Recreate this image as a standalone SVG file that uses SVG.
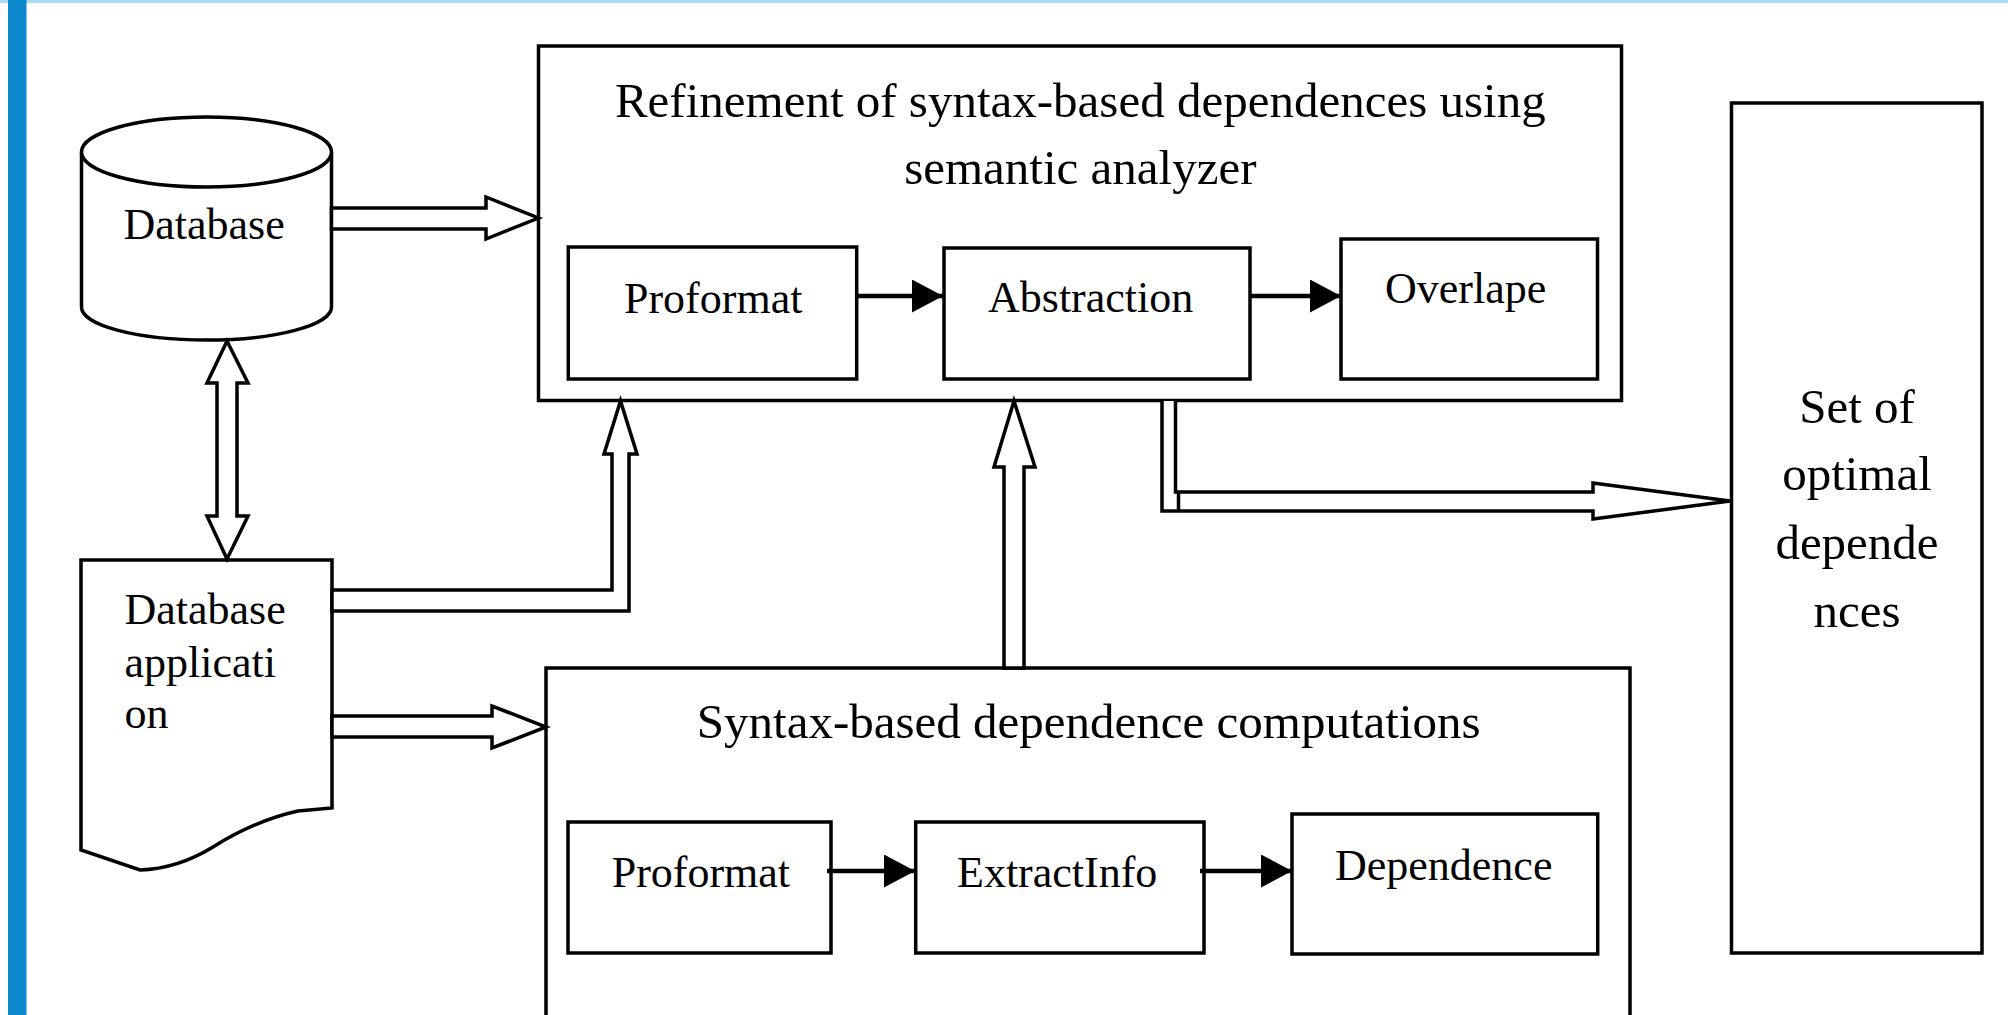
<svg xmlns="http://www.w3.org/2000/svg" width="2008" height="1015" viewBox="0 0 2008 1015">
<style>
.box{fill:#fff;stroke:#000;stroke-width:3.5}
.blk{fill:#fff;stroke:#000;stroke-width:3.5;stroke-linejoin:miter}
.ln{fill:none;stroke:#000;stroke-width:3.5}
.arr{fill:none;stroke:#000;stroke-width:4.5}
.t{font-family:"Liberation Serif","Times New Roman",serif;fill:#000}
.s44{font-size:44px}
.s49{font-size:49px}
</style>
<defs>
<marker id="tri" markerUnits="userSpaceOnUse" markerWidth="32" markerHeight="34" refX="31" refY="16.5" orient="auto" viewBox="0 0 32 34">
<path d="M0,0 L31,16.5 L0,33 Z" fill="#000"/>
</marker>
</defs>
<rect x="0" y="0" width="2008" height="1015" fill="#fff"/>
<rect x="0" y="0" width="2008" height="3" fill="#A9DAF2"/>
<rect x="8" y="0" width="18.5" height="1015" fill="#0E88CC"/>

<g id="database">
<path class="box" d="M81.5,152 V307 A125,33 0 0 0 331.5,307 V152"/>
<ellipse class="box" cx="206.5" cy="152" rx="125" ry="35"/>
<text class="t s44" x="123.5" y="239">Database</text>
</g>

<g id="dbapp">
<path class="box" d="M81,560 H332 V808 L298,811 C262,819 232,835 213,847 C195,858 172,869 140,870 L81,850 Z"/>
<text class="t s44" x="124.5" y="623.5">Database</text>
<text class="t s44" x="124.5" y="676.5">applicati</text>
<text class="t s44" x="124.5" y="727.5">on</text>
</g>

<g id="refinement">
<rect class="box" x="538.5" y="46" width="1083" height="354.5"/>
<text class="t s49" x="1080.3" y="117" text-anchor="middle">Refinement of syntax-based dependences using</text>
<text class="t s49" x="1080.3" y="184" text-anchor="middle">semantic analyzer</text>
</g>
<g id="proformat1">
<rect class="box" x="568.3" y="247" width="288.4" height="132"/>
<text class="t s44" x="624" y="313">Proformat</text>
</g>
<g id="abstraction">
<rect class="box" x="944" y="248" width="306" height="131"/>
<text class="t s44" x="988" y="312">Abstraction</text>
</g>
<g id="overlape">
<rect class="box" x="1341" y="239" width="256.5" height="140"/>
<text class="t s44" x="1385" y="302.7">Overlape</text>
</g>

<g id="syntax">
<rect class="box" x="546" y="668" width="1084" height="400"/>
<text class="t s49" x="1088.7" y="738" text-anchor="middle">Syntax-based dependence computations</text>
</g>
<g id="proformat2">
<rect class="box" x="568" y="822" width="263" height="131"/>
<text class="t s44" x="611.7" y="887">Proformat</text>
</g>
<g id="extractinfo">
<rect class="box" x="915.7" y="822" width="288.3" height="131"/>
<text class="t s44" x="957" y="887">ExtractInfo</text>
</g>
<g id="dependence">
<rect class="box" x="1292" y="814" width="305.7" height="140"/>
<text class="t s44" x="1335" y="880">Dependence</text>
</g>

<g id="optimal">
<rect class="box" x="1731.5" y="103" width="250.5" height="850"/>
<text class="t s49" x="1857" y="423" text-anchor="middle">Set of</text>
<text class="t s49" x="1857" y="490" text-anchor="middle">optimal</text>
<text class="t s49" x="1857" y="559" text-anchor="middle">depende</text>
<text class="t s49" x="1857" y="627" text-anchor="middle">nces</text>
</g>

<g id="connectors">
<polygon class="blk" points="227,341 248,383 237,383 237,516 248,516 227,559 207,516 217,516 217,383 207,383"/>
<polygon class="blk" points="331.5,208 486,208 486,197 538.5,218 486,239 486,229 331.5,229"/>
<polygon class="blk" points="332,590 612,590 612,454 604,454 620.5,401 637,454 629,454 629,611 332,611"/>
<polygon class="blk" points="332,716 492,716 492,706 546,727 492,748 492,737 332,737"/>
<polygon class="blk" points="1004,668 1004,467 994,467 1014,401 1035,467 1024,467 1024,668"/>
<path class="blk" d="M1162,401 V511 H1593 V519 L1730,501 L1593,483 V492 H1175.5 V401"/>
<line class="ln" x1="1178.5" y1="493" x2="1178.5" y2="510"/>
<line class="arr" x1="856" y1="296" x2="943" y2="296" marker-end="url(#tri)"/>
<line class="arr" x1="1250" y1="296" x2="1341" y2="296" marker-end="url(#tri)"/>
<line class="arr" x1="827" y1="871" x2="915" y2="871" marker-end="url(#tri)"/>
<line class="arr" x1="1200" y1="871" x2="1292" y2="871" marker-end="url(#tri)"/>
</g>
</svg>
